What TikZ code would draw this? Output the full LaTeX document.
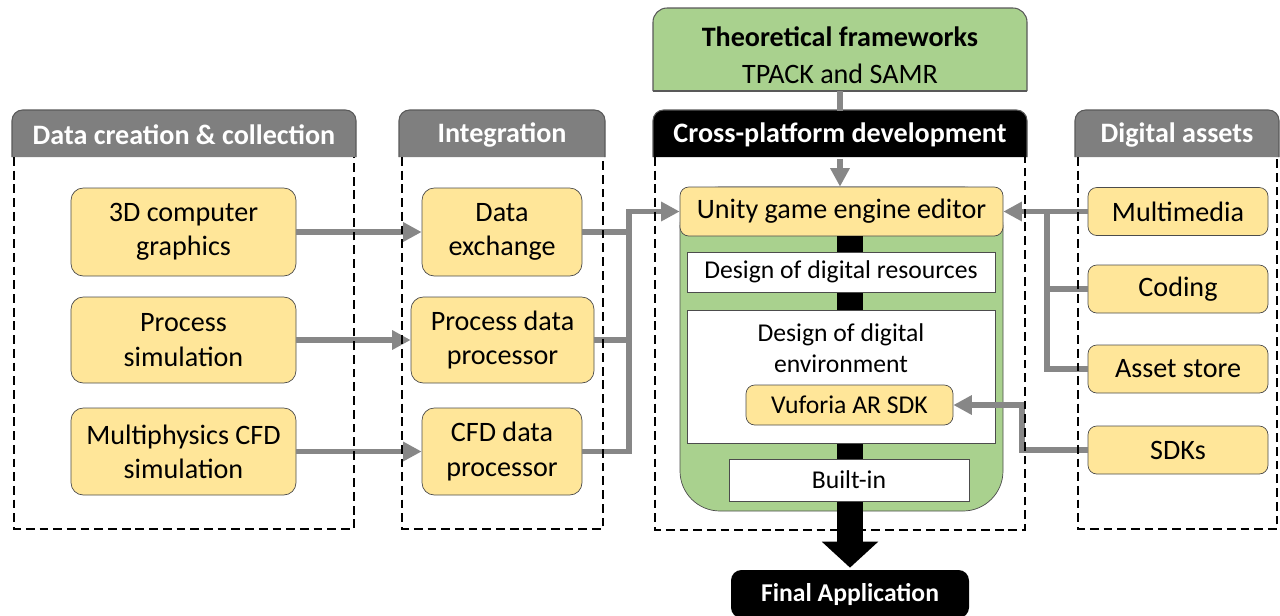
\documentclass[tikz,border=0pt]{standalone}
\usepackage{fontspec}
\setmainfont{Carlito}
\usetikzlibrary{arrows.meta, positioning, calc}
\definecolor{boxyellow}{RGB}{255,230,153}
\definecolor{boxgreen}{RGB}{169,209,142}
\definecolor{hdgray}{RGB}{127,127,127}
\definecolor{arrgray}{RGB}{135,135,135}

\begin{document}
\begin{tikzpicture}[x=0.2mm, y=-0.2mm,
  txt/.style={font=\fontsize{16}{19.5}\selectfont, align=center},
  smalltxt/.style={font=\fontsize{14.6}{17.5}\selectfont, align=center},
  item/.style={txt, draw=black!70, fill=boxyellow, rounded corners=7pt, inner sep=1pt},
  plainbox/.style={smalltxt, draw=black!70, fill=white, inner sep=1pt},
  hdbox/.style={draw=black!65, line width=0.6pt},
  hdtext/.style={font=\fontsize{16}{19.5}\selectfont\bfseries, text=white, inner sep=0pt, minimum height=9.4mm},
  zone/.style={draw=black, line width=1.3pt, dash pattern=on 5pt off 2.8pt},
  garr/.style={draw=arrgray, line width=3.2pt, -{Triangle[length=10.5pt, width=10.5pt]}},
  gline/.style={draw=arrgray, line width=3.2pt},
  bigarr/.style={draw=black, line width=15.3pt, -{Triangle[length=5.2mm, width=11mm]}},
  final/.style={fill=black, rounded corners=6pt, text=white, font=\fontsize{14.6}{17.5}\selectfont\bfseries,
                minimum width=47.6mm, minimum height=9.6mm}
]
  \useasboundingbox (0,0) rectangle (1280,615);

  % headers
  \filldraw[hdbox, fill=hdgray] (12,157) [rounded corners=6pt] -- (12,110) -- (356,110) -- (356,157);
  \node[hdtext, minimum width=68.8mm] (hdA) at (184,135) {Data creation \& collection};
  \filldraw[hdbox, fill=hdgray] (399,157) [rounded corners=6pt] -- (399,110) -- (605,110) -- (605,157);
  \node[hdtext, minimum width=41.2mm] (hdB) at (502,135) {Integration};
  \filldraw[hdbox, fill=black] (653,157) [rounded corners=6pt] -- (653,110) -- (1027,110) -- (1027,157);
  \node[hdtext, minimum width=74.8mm] (hdC) at (840,135) {Cross-platform development};
  \filldraw[hdbox, fill=hdgray] (1075,157) [rounded corners=6pt] -- (1075,110) -- (1279,110) -- (1279,157);
  \node[hdtext, minimum width=40.8mm] (hdD) at (1177,135) {Digital assets};

  % theoretical frameworks
  \filldraw[hdbox, fill=boxgreen] (653,91) [rounded corners=8pt] -- (653,8) -- (1027,8) -- (1027,91);
  \draw[hdbox] (653,91) -- (1027,91);
  \node[font=\fontsize{16}{21}\selectfont, align=center, minimum width=74.8mm, minimum height=14.4mm]
    (theo) at (840,55) {\textbf{Theoretical frameworks}\\TPACK and SAMR};

  % data creation & collection
  \node[item, minimum width=45mm, minimum height=17.6mm] (cg) at (183.5,232) {3D computer\\graphics};
  \node[item, minimum width=45mm, minimum height=17.2mm] (ps) at (183.5,340) {Process\\simulation};
  \node[item, minimum width=45mm, minimum height=17.4mm] (cfd) at (183.5,451.5) {Multiphysics CFD\\simulation};

  % integration
  \node[item, minimum width=32mm, minimum height=17.6mm] (dx) at (502,232) {Data\\exchange};
  \node[item, minimum width=36.6mm, minimum height=17.2mm] (pdp) at (502.5,340) {Process data\\processor};
  \node[item, minimum width=32mm, minimum height=17.4mm] (cdp) at (502,451.5) {CFD data\\processor};

  % digital assets
  \node[item, rounded corners=5pt, minimum width=36mm, minimum height=9.6mm] (media) at (1178,211.5) {Multimedia};
  \node[item, rounded corners=5pt, minimum width=36mm, minimum height=9.6mm] (coding) at (1178,289) {Coding};
  \node[item, rounded corners=5pt, minimum width=36mm, minimum height=9.6mm] (store) at (1178,369) {Asset store};
  \node[item, rounded corners=5pt, minimum width=36mm, minimum height=9.6mm] (sdk) at (1178,450) {SDKs};

  % cross-platform development
  \filldraw[fill=boxgreen, draw=black!70, rounded corners=8mm] (680,187) rectangle (1003,511);
  \node[item, rounded corners=5pt, minimum width=64.6mm, minimum height=9.8mm] (unity) at (841.5,211.5) {Unity game engine editor};
  \node[final] (final) at (850,594) {Final Application};
  \draw[bigarr, shorten >=0.4mm] (final.north |- unity.south) -- (final.north);
  \node[plainbox, minimum width=61.6mm, minimum height=8mm] (dres) at (841,272) {Design of digital resources};
  \node[plainbox, minimum width=61.6mm, minimum height=26.6mm] (denv) at (841,376.5) {};
  \node[smalltxt] (denvlbl) at (841,348) {Design of digital\\environment};
  \node[item, font=\fontsize{14.6}{17.5}\selectfont, rounded corners=5pt, minimum width=41.4mm, minimum height=8mm]
    (vuf) at (849.5,405) {Vuforia AR SDK};
  \node[plainbox, minimum width=48mm, minimum height=8.4mm] (built) at (849,480) {Built-in};

  % connectors
  \draw[gline] (theo.south) -- (hdC.north);
  \draw[garr] (hdC.south) -- (hdC.south |- unity.north);

  \draw[garr] (cg) -- (dx);
  \draw[garr] (ps) -- (pdp);
  \draw[garr] (cfd) -- (cdp);

  \coordinate (busL) at (629,211.5);
  \draw[garr] (dx.east) -| (busL) -- (unity.west);
  \draw[gline] (pdp.east) -- (busL |- pdp.east);
  \draw[gline] (cdp.east) -| (busL);

  \coordinate (busR) at (1047,211.5);
  \draw[garr] (media.west) -- (unity.east);
  \draw[gline] (coding.west) -- (busR |- coding.west);
  \draw[gline] (store.west) -| (busR);

  \coordinate (sdkbend) at (1022,405);
  \draw[garr] (sdk.west) -| (sdkbend) -- (vuf.east);

  % dashed zones
  \draw[zone] (14,157) -- (14,529) -- (354,529) -- (354,157);
  \draw[zone] (402,157) -- (402,529) -- (603,529) -- (603,157);
  \draw[zone] (655,157) -- (655,530) -- (1025,530) -- (1025,157);
  \draw[zone] (1078,157) -- (1078,529) -- (1277,529) -- (1277,157);
\end{tikzpicture}
\end{document}
